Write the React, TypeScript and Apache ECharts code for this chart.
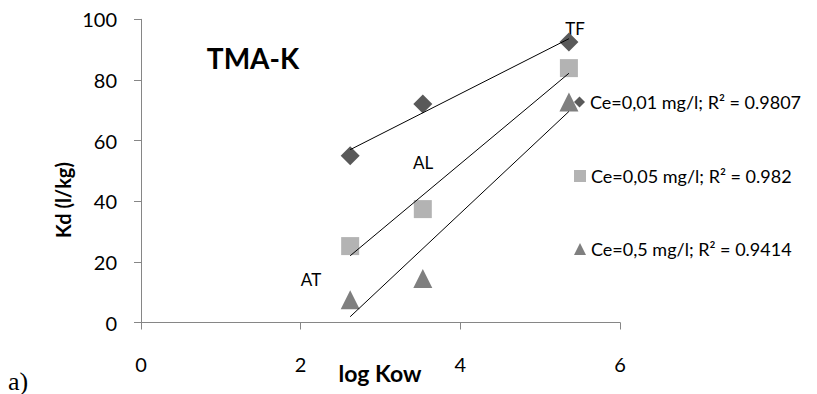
import React, { useEffect, useRef } from "react";
import * as echarts from "echarts";

// log Kow of the three compounds (AT, AL, TF)
const logKow = [2.62, 3.53, 5.36];
// Kd (l/kg) for each concentration
const kdCe001 = [55.0, 72.1, 92.5];
const kdCe005 = [25.2, 37.4, 83.9];
const kdCe05 = [7.5, 14.5, 72.7];
// linear trend line end points
const trendX = [2.62, 5.36];
const trendCe001 = [57.0, 93.6];
const trendCe005 = [22.0, 82.2];
const trendCe05 = [1.9, 69.6];

const seriesNames = [
  "Ce=0,01 mg/l; R² = 0.9807",
  "Ce=0,05 mg/l; R² = 0.982",
  "Ce=0,5 mg/l; R² = 0.9414",
];
const xTicks = { min: 0, max: 6, interval: 2 };
const yTicks = { min: 0, max: 100, interval: 20 };

const FONT = "Lato, 'Open Sans', sans-serif";

export default function App() {
  const ref = useRef<HTMLDivElement>(null);

  useEffect(() => {
    document.body.style.margin = "0";
    const chart = echarts.init(ref.current!, null, { renderer: "svg" });
    const pts = (ys: number[]) => logKow.map((x, i) => [x, ys[i]]);
    const tr = (ys: number[]) => trendX.map((x, i) => [x, ys[i]]);
    const colors = ["#595959", "#b3b3b3", "#7f7f7f"];
    const symbols = ["diamond", "rect", "triangle"];
    const sizes = [19, 18, 19];
    const data = [kdCe001, kdCe005, kdCe05];
    const trends = [trendCe001, trendCe005, trendCe05];
    const legendTops = [93, 167, 240];

    const option: any = {
      animation: false,
      textStyle: { fontFamily: FONT },
      grid: { left: 141, right: 197, top: 19.3, bottom: 71.5, containLabel: false },
      xAxis: {
        type: "value",
        ...xTicks,
        axisLine: { show: true, lineStyle: { color: "#868686", width: 1 } },
        axisTick: { show: true, inside: false, length: 7, lineStyle: { color: "#868686" } },
        axisLabel: { color: "#000", fontSize: 20, fontFamily: FONT, margin: 31 },
        splitLine: { show: false },
      },
      yAxis: {
        type: "value",
        ...yTicks,
        axisLine: { show: true, lineStyle: { color: "#868686", width: 1 } },
        axisTick: { show: true, inside: false, length: 7, lineStyle: { color: "#868686" } },
        axisLabel: { color: "#000", fontSize: 20, fontFamily: FONT, margin: 24 },
        splitLine: { show: false },
      },
      legend: seriesNames.map((n, i) => ({
        data: [{ name: n, icon: symbols[i] }],
        left: 574,
        top: legendTops[i],
        padding: 0,
        itemWidth: i === 0 ? 11 : 12,
        itemHeight: i === 0 ? 11 : 12,
        itemGap: 0,
        textStyle: { color: "#000", fontSize: 18, fontFamily: FONT },
        selectedMode: false,
      })),
      series: [
        ...trends.map((t) => ({
          type: "line",
          data: tr(t),
          symbol: "none",
          lineStyle: { color: "#000", width: 1 },
          silent: true,
          z: 3,
        })),
        ...data.map((d, i) => ({
          type: "scatter",
          name: seriesNames[i],
          data: pts(d),
          symbol: symbols[i],
          symbolSize: sizes[i],
          itemStyle: { color: colors[i], opacity: 1 },
          z: 2,
        })),
      ],
      graphic: [
        {
          type: "text", x: 253, y: 58,
          style: { text: "TMA-K", fontSize: 28, fontWeight: "bold", fontFamily: FONT, fill: "#000", textAlign: "center", textVerticalAlign: "middle" },
        },
        {
          type: "text", x: 575, y: 28,
          style: { text: "TF", fontSize: 17, fontFamily: FONT, fill: "#000", textAlign: "center", textVerticalAlign: "middle" },
        },
        {
          type: "text", x: 423, y: 162,
          style: { text: "AL", fontSize: 17, fontFamily: FONT, fill: "#000", textAlign: "center", textVerticalAlign: "middle" },
        },
        {
          type: "text", x: 311, y: 279,
          style: { text: "AT", fontSize: 17, fontFamily: FONT, fill: "#000", textAlign: "center", textVerticalAlign: "middle" },
        },
        {
          type: "text", x: 380, y: 373,
          style: { text: "log Kow", fontSize: 23, fontWeight: "bold", fontFamily: FONT, fill: "#000", textAlign: "center", textVerticalAlign: "middle" },
        },
        {
          type: "text", x: 63, y: 200, rotation: Math.PI / 2,
          style: { text: "Kd (l/kg)", fontSize: 20, fontWeight: "bold", fontFamily: FONT, fill: "#000", textAlign: "center", textVerticalAlign: "middle" },
        },
        {
          type: "text", x: 8, y: 381,
          style: { text: "a)", fontSize: 26, fontFamily: "'Liberation Serif', 'DejaVu Serif', serif", fill: "#000", textAlign: "left", textVerticalAlign: "middle" },
        },
      ],
    };
    chart.setOption(option);
    return () => chart.dispose();
  }, []);

  return (
    <div
      ref={ref}
      style={{ position: "absolute", left: 0, top: 0, width: 817, height: 394, background: "#fff" }}
    />
  );
}
